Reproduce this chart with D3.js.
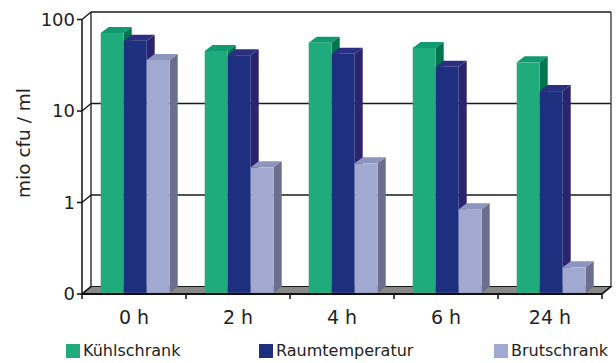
<!DOCTYPE html>
<html>
<head>
<meta charset="utf-8">
<script src="https://cdn.jsdelivr.net/npm/d3@7"></script>
<style>
  html, body { margin: 0; padding: 0; background: #fff; }
  svg { display: block; font-family: "DejaVu Sans", Verdana, sans-serif; }
</style>
</head>
<body>
<svg id="chart" width="616" height="363"></svg>
<script>
// Bacterial counts (mio cfu / ml) by storage time and storage place
const categories = ["0 h", "2 h", "4 h", "6 h", "24 h"];
const seriesNames = ["Kühlschrank", "Raumtemperatur", "Brutschrank"];
const kuehlschrank = [69, 44, 54, 47.5, 33];
const raumtemperatur = [57, 39.5, 41, 29.5, 16];
const brutschrank = [35, 2.35, 2.6, 0.82, 0.19];
const tickValues = [0.1, 1, 10, 100];
const tickLabels = ["0", "1", "10", "100"];

const seriesValues = [kuehlschrank, raumtemperatur, brutschrank];
const palette = [
  { front: "#1fab7b", top: "#0f9a6f", side: "#00744f" },
  { front: "#1f2f80", top: "#2b2f80", side: "#2c236e" },
  { front: "#a1a9d0", top: "#8e95bd", side: "#6b6f8d" }
];

const svg = d3.select("#chart");

// Front plane geometry and depth offsets
const x0 = 82, x1 = 602;
const wallDX = 9, wallDY = -7.5;   // depth of the back wall
const barDX = 8, barDY = -6;       // depth of a single bar
const barShift = 1.2;              // bars sit slightly behind the front edge

const y = d3.scaleLog().domain([0.1, 100]).range([294, 19.5]);
const x = d3.scaleBand().domain(categories).range([x0, x1]).paddingInner(0).paddingOuter(0);
const groupW = 69;
const xs = d3.scaleBand().domain(seriesNames).range([0, groupW]).padding(0);

// Back wall gridlines and frame
const g = svg.append("g");
const backX0 = x0 + wallDX, backX1 = x1 + wallDX;
g.selectAll("line.grid")
  .data(tickValues.slice(1))
  .join("line")
  .attr("x1", backX0).attr("x2", backX1)
  .attr("y1", d => y(d) + wallDY).attr("y2", d => y(d) + wallDY)
  .attr("stroke", "#1a1a1a").attr("stroke-width", 1.3);
// left and right back edges
g.append("line").attr("x1", backX0).attr("x2", backX0)
  .attr("y1", y(100) + wallDY).attr("y2", y(0.1) + wallDY)
  .attr("stroke", "#1a1a1a").attr("stroke-width", 1.3);
g.append("line").attr("x1", backX1).attr("x2", backX1)
  .attr("y1", y(100) + wallDY).attr("y2", y(0.1) + wallDY)
  .attr("stroke", "#333").attr("stroke-width", 1.3);

// Floor
const fy = y(0.1);
g.append("path")
  .attr("d", `M${x0},${fy} L${x1},${fy} L${backX1},${fy + wallDY} L${backX0},${fy + wallDY} Z`)
  .attr("fill", "#888888").attr("stroke", "#1a1a1a").attr("stroke-width", 1.2);

// Bars: each drawn as top, side, front so the next bar covers the previous side
const bars = [];
categories.forEach((c, ci) => {
  seriesNames.forEach((s, si) => {
    bars.push({ c, s, si, v: seriesValues[si][ci] });
  });
});
const barG = svg.append("g");
bars.forEach(b => {
  const bx = x(b.c) + (x.bandwidth() - groupW) / 2 + xs(b.s) + barShift;
  const bw = xs.bandwidth();
  const top = y(b.v) - barShift;
  const bottom = y(0.1) - barShift;
  const col = palette[b.si];
  barG.append("path")
    .attr("d", `M${bx},${top} L${bx + barDX},${top + barDY} L${bx + bw + barDX},${top + barDY} L${bx + bw},${top} Z`)
    .attr("fill", col.top);
  barG.append("path")
    .attr("d", `M${bx + bw},${top} L${bx + bw + barDX},${top + barDY} L${bx + bw + barDX},${bottom + barDY} L${bx + bw},${bottom} Z`)
    .attr("fill", col.side);
  barG.append("rect")
    .attr("x", bx).attr("y", top)
    .attr("width", bw).attr("height", bottom - top)
    .attr("fill", col.front);
});

// Front axes
const axG = svg.append("g");
axG.append("line").attr("x1", x0).attr("x2", x0).attr("y1", y(100)).attr("y2", y(0.1))
  .attr("stroke", "#111").attr("stroke-width", 1.5);
axG.append("line").attr("x1", x0).attr("x2", x1).attr("y1", fy).attr("y2", fy)
  .attr("stroke", "#111").attr("stroke-width", 1.8);
axG.append("line").attr("x1", x1).attr("x2", backX1).attr("y1", fy).attr("y2", fy + wallDY)
  .attr("stroke", "#111").attr("stroke-width", 1.5);
// y ticks, with connectors to the back wall
axG.selectAll("line.yt").data(tickValues).join("line")
  .attr("x1", x0 - 5).attr("x2", x0).attr("y1", d => y(d)).attr("y2", d => y(d))
  .attr("stroke", "#111").attr("stroke-width", 1.5);
axG.selectAll("line.yc").data(tickValues).join("line")
  .attr("x1", x0).attr("x2", backX0).attr("y1", d => y(d)).attr("y2", d => y(d) + wallDY)
  .attr("stroke", "#111").attr("stroke-width", 1.3);
axG.selectAll("text.yl").data(tickValues).join("text")
  .attr("x", x0 - 7).attr("y", d => y(d)).attr("dy", "0.36em")
  .attr("text-anchor", "end").attr("font-size", 18).attr("fill", "#222")
  .text((d, i) => tickLabels[i]);
// x ticks at category boundaries
const bounds = categories.map(c => x(c)).concat([x1]);
axG.selectAll("line.xt").data(bounds).join("line")
  .attr("x1", d => d).attr("x2", d => d).attr("y1", fy).attr("y2", fy + 5)
  .attr("stroke", "#111").attr("stroke-width", 1.5);
axG.selectAll("text.xl").data(categories).join("text")
  .attr("x", d => x(d) + x.bandwidth() / 2).attr("y", 324)
  .attr("text-anchor", "middle").attr("font-size", 19).attr("fill", "#222")
  .text(d => d);

// Axis title
svg.append("text")
  .attr("transform", "translate(30,143) rotate(-90)")
  .attr("text-anchor", "middle").attr("font-size", 18.5).attr("fill", "#222")
  .text("mio cfu / ml");

// Legend
const legendX = [66, 259, 494];
const lg = svg.append("g");
seriesNames.forEach((s, i) => {
  lg.append("rect").attr("x", legendX[i]).attr("y", 344).attr("width", 14).attr("height", 14)
    .attr("fill", palette[i].front);
  lg.append("text").attr("x", legendX[i] + 17).attr("y", 356)
    .attr("font-size", 16).attr("fill", "#222").text(s);
});
</script>
</body>
</html>
